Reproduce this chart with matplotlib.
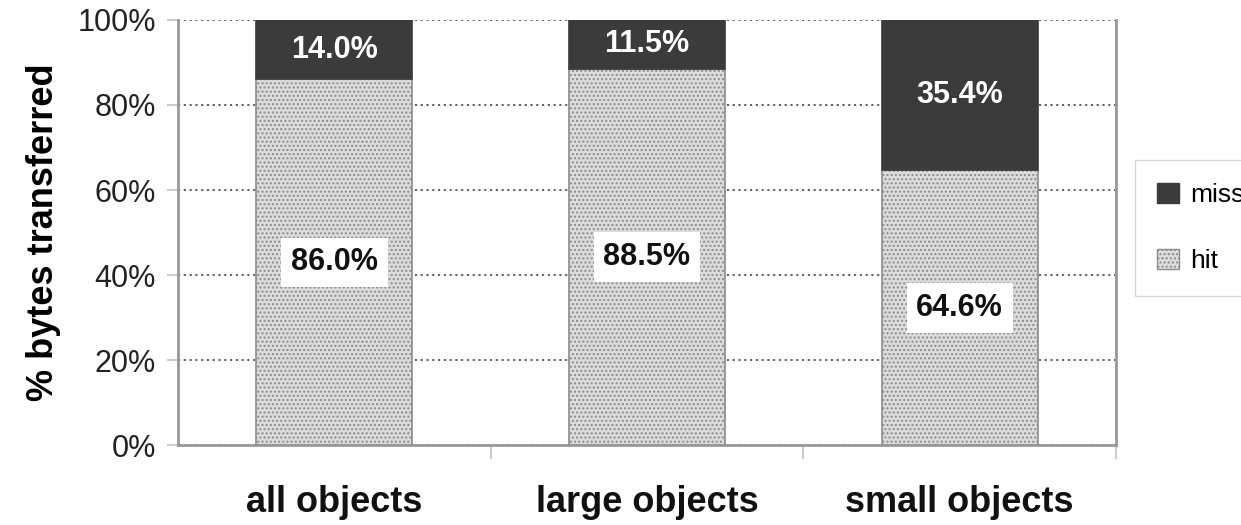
import numpy as np
import matplotlib.pyplot as plt
from matplotlib.patches import Patch

plt.rcParams['font.family'] = ['Liberation Sans', 'DejaVu Sans']

categories = ['all objects', 'large objects', 'small objects']
hit = [86.0, 88.5, 64.6]
miss = [14.0, 11.5, 35.4]

fig = plt.figure(figsize=(12.41, 5.25), dpi=100)
ax = fig.add_axes([0.1434, 0.152, 0.7559, 0.810])

x = np.arange(len(categories))
hit_bars = ax.bar(x, hit, width=0.5, color='#dcdcdc', edgecolor='#8c8c8c',
                  hatch='....', linewidth=1.2, zorder=3)
miss_bars = ax.bar(x, miss, width=0.5, bottom=hit, color='#3b3b3b',
                   edgecolor='#3b3b3b', linewidth=1.2, zorder=3)

# hit labels sit in white boxes, miss labels are white on the dark segment
for xi, h, m in zip(x, hit, miss):
    ax.text(xi, h / 2, f'{h:.1f}%', ha='center', va='center', fontsize=22,
            fontweight='bold', color='#111111', zorder=5,
            bbox=dict(boxstyle='square,pad=0.32', fc='white', ec='none'))
    ax.text(xi, h + m / 2, f'{m:.1f}%', ha='center', va='center', fontsize=22,
            fontweight='bold', color='white', zorder=5)

ax.set_xlim(-0.5, 2.5)
ax.set_ylim(0, 100)
ax.set_yticks(np.arange(0, 101, 20))
ax.set_yticklabels([f'{v}%' for v in range(0, 101, 20)], fontsize=22, color='#222222')
ax.yaxis.grid(True, linestyle=(0, (1.2, 2.0)), color='#555555', linewidth=1.3, zorder=1)

ax.set_xticks(x)
ax.set_xticklabels(categories, fontsize=26, fontweight='bold', color='#111111')
ax.tick_params(axis='x', length=0, pad=29)
ax.set_xticks([0.5, 1.5, 2.5], minor=True)
ax.tick_params(axis='x', which='minor', length=10, color='#cccccc', width=1.5)
ax.tick_params(axis='y', length=8, color='#cccccc', width=1.5, pad=8)

ax.set_ylabel('% bytes transferred', fontsize=26, fontweight='bold', labelpad=12)

for side in ['left', 'bottom', 'right']:
    ax.spines[side].set_color('#999999')
    ax.spines[side].set_linewidth(2)
ax.spines['top'].set_visible(False)

handles = [Patch(facecolor='#3b3b3b', edgecolor='#3b3b3b', label='miss'),
           Patch(facecolor='#dcdcdc', edgecolor='#8c8c8c', hatch='....', label='hit')]
fig.legend(handles=handles, loc='upper left', bbox_to_anchor=(0.9146, 0.695),
           fontsize=19, frameon=True, fancybox=False, edgecolor='#cccccc',
           handlelength=0.8, handleheight=0.8, handletextpad=0.45,
           labelspacing=1.6, borderpad=0.85, borderaxespad=0)

fig.savefig('out.png', dpi=100)
